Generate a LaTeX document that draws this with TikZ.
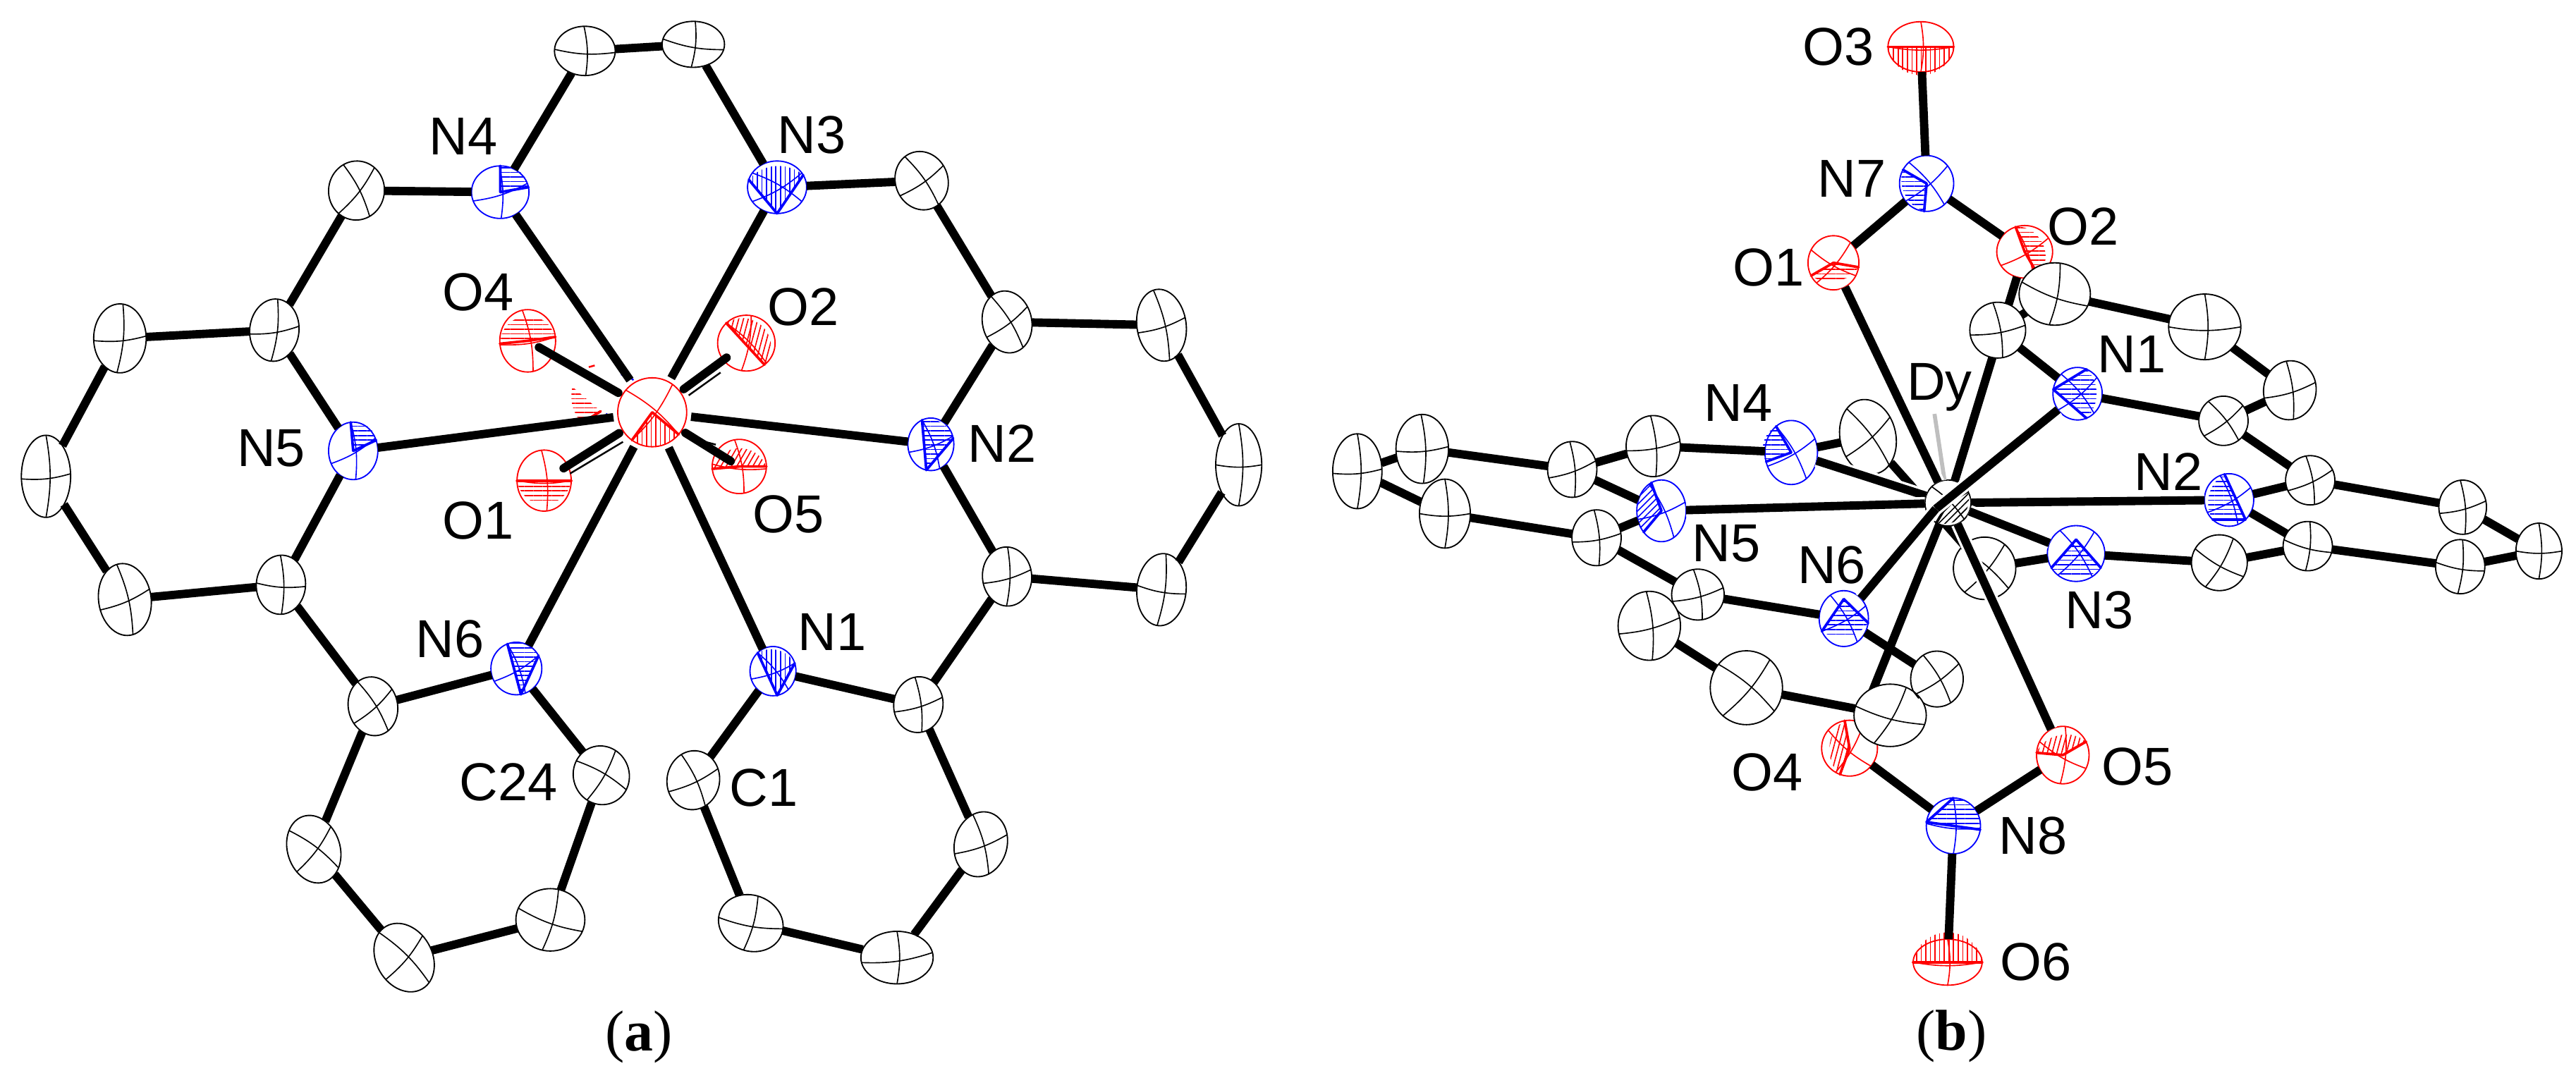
\documentclass[tikz,border=0pt]{standalone}
\usepackage{fontspec}
\setmainfont{Liberation Sans}
\newfontfamily\capfont{Liberation Serif}
\usepackage{tikz}
\usetikzlibrary{calc, shapes.geometric, patterns.meta}

\tikzset{
  atom/.style={ellipse, draw=#1, fill=white, line width=.45pt, inner sep=0pt, outer sep=0pt},
  axis/.style={line width=.4pt},
  wedge/.style={line width=.9pt, line cap=round},
  bond/.style={line width=2.9pt, black},
  hbond/.style={bond, preaction={draw=white, line width=4.6pt}},
  dybond/.style={bond, shorten <=1.6pt},
  obond/.style={bond, line cap=round, shorten <=1.6pt},
  backline/.style={line width=.6pt, black},
  lab/.style={font=\fontsize{18.5}{20}\selectfont, inner sep=0pt},
  caplab/.style={font=\capfont\fontsize{20}{22}\selectfont, inner sep=0pt},
}

\newcommand{\atom}[8]{%
  \node (#2) at (#3) [atom=#1, minimum width={#4*.04cm}, minimum height={#5*.04cm}, rotate=#6] {};
  \pgfmathtruncatemacro{\angA}{#7+180}%
  \pgfmathtruncatemacro{\angB}{#8+180}%
  \draw [axis, #1] (#2.#7) to [bend left=10] (#2.\angA);
  \draw [axis, #1] (#2.#8) to [bend left=10] (#2.\angB);
}
\newcommand{\oct}[7][bend right=45]{%
  \path [pattern={Lines[angle=#7, distance=1.6pt, line width=.4pt]}, pattern color=#2]
    (#4) -- (#3.#5) to [#1] (#3.#6) -- cycle;
  \draw [wedge, #2] (#4) -- (#3.#5) (#4) -- (#3.#6);
}

\begin{document}
\begin{tikzpicture}[x=.02cm, y=-.02cm]
  \useasboundingbox (0,0) rectangle (1568,655.9);

  % (a) view along the axis
  \atom{black}{aca}{356,31}{18.5}{15}{0}{-3}{92}
  \atom{black}{acb}{422,27}{19}{14}{0}{-10}{85}
  \atom{black}{acc}{217,116}{17}{18}{-8}{60}{125}
  \atom{black}{acd}{561,110}{16}{18}{20}{15}{105}
  \atom{black}{ace}{613,196}{15}{19}{12}{25}{110}
  \atom{black}{acf}{707,198}{15}{22}{8}{10}{95}
  \atom{black}{acg}{167,201}{15}{19}{-6}{15}{90}
  \atom{black}{ach}{73,206}{16}{21}{0}{5}{85}
  \atom{black}{aci}{754,283}{14}{25}{0}{0}{90}
  \atom{black}{acj}{28,290}{15}{25}{0}{6}{90}
  \atom{black}{ack}{76,365}{16}{22}{8}{15}{95}
  \atom{black}{acl}{171,356}{15}{18}{-4}{0}{95}
  \atom{black}{acm}{613,351}{15}{18}{4}{12}{85}
  \atom{black}{acn}{707,359}{15}{22}{-5}{-5}{88}
  \atom{black}{aco}{227,430}{15}{18}{12}{30}{110}
  \atom{black}{acp}{559,429}{15}{17}{-8}{25}{105}
  \atom{black}{acu}{366,472}{17}{18}{20}{40}{130}
  \atom{black}{acv}{422,475}{16}{18}{-10}{35}{125}
  \atom{black}{acq}{191,517}{16}{21}{18}{35}{125}
  \atom{black}{acr}{597,514}{16}{20}{-15}{35}{120}
  \atom{black}{acs}{335,560}{21}{19}{0}{-20}{75}
  \atom{black}{act}{457,562}{20}{17}{-20}{10}{95}
  \atom{black}{acw}{246,583}{17}{22}{30}{20}{105}
  \atom{black}{acx}{546,583}{22}{16}{0}{8}{90}
  \atom{blue}{an4}{304.5,117}{17.5}{16}{0}{18}{92}
  \oct{blue}{an4}{an4.center}{10}{90}{0}
  \atom{blue}{an3}{473,114}{18}{16}{0}{30}{150}
  \oct{blue}{an3}{an3.270}{25}{165}{90}
  \atom{blue}{an5}{215,274.5}{15}{17.5}{0}{30}{95}
  \oct{blue}{an5}{an5.center}{25}{95}{0}
  \atom{blue}{an2}{566.6,270.5}{14}{16}{0}{20}{110}
  \oct{blue}{an2}{an2.-100}{15}{110}{0}
  \atom{blue}{an6}{314.3,407}{15.5}{16}{0}{30}{110}
  \oct{blue}{an6}{an6.-80}{30}{110}{0}
  \atom{blue}{an1}{470.5,408.6}{14}{15}{0}{20}{130}
  \oct{blue}{an1}{an1.-80}{20}{130}{90}
  \atom{red}{ao4}{321.2,207.5}{17}{19}{0}{8}{100}
  \oct[bend right=80, looseness=1.5]{red}{ao4}{ao4.center}{8}{186}{0}
  \atom{red}{ao2}{454.3,208.9}{17.5}{17}{0}{135}{80}
  \oct[bend right=80, looseness=1.5]{red}{ao2}{ao2.135}{-50}{135}{75}
  \atom{red}{ao1}{331.2,292.6}{16.5}{18.6}{0}{0}{95}
  \oct[bend right=80, looseness=1.5]{red}{ao1}{ao1.180}{180}{360}{0}
  \atom{red}{ao5}{450,284}{16.5}{16.5}{0}{-5}{100}
  \oct[bend right=70, looseness=1.3]{red}{ao5}{ao5.center}{0}{185}{60}
  \path [pattern={Lines[angle=0, distance=1.6pt, line width=.4pt]}, pattern color=red]
    (348.4,235.4) to [bend right=25] (354.1,257.6) -- (365.6,250.4) -- cycle;
  \draw [wedge, red] (354.1,257.6) -- (365.6,250.4);
  \draw [backline, blue] (378,228) to [bend left=15] (385.6,231.4);
  \draw [backline, blue] (368.9,251.8) -- (373.2,256.1);
  \draw [backline, red] (358.4,223.5) -- (362,222.5);
  \atom{red}{ady}{397,251}{21}{21}{0}{140}{54}
  \oct{red}{ady}{ady.center}{-126}{-40}{90}

  \draw [bond] (aca) -- (acb);
  \draw [bond] (aca) -- (an4);
  \draw [bond] (acb) -- (an3);
  \draw [bond] (an4) -- (acc);
  \draw [bond] (an3) -- (acd);
  \draw [bond] (acc) -- (acg);
  \draw [bond] (acd) -- (ace);
  \draw [bond] (ace) -- (acf);
  \draw [bond] (acg) -- (ach);
  \draw [bond] (ach) -- (acj);
  \draw [bond] (acf) -- (aci);
  \draw [bond] (acj) -- (ack);
  \draw [bond] (aci) -- (acn);
  \draw [bond] (ace) -- (an2);
  \draw [bond] (acg) -- (an5);
  \draw [bond] (an5) -- (acl);
  \draw [bond] (an2) -- (acm);
  \draw [bond] (acl) -- (ack);
  \draw [bond] (acm) -- (acn);
  \draw [bond] (acl) -- (aco);
  \draw [bond] (acm) -- (acp);
  \draw [bond] (aco) -- (an6);
  \draw [bond] (acp) -- (an1);
  \draw [bond] (an6) -- (acu);
  \draw [bond] (an1) -- (acv);
  \draw [bond] (aco) -- (acq);
  \draw [bond] (acp) -- (acr);
  \draw [bond] (acq) -- (acw);
  \draw [bond] (acr) -- (acx);
  \draw [bond] (acw) -- (acs);
  \draw [bond] (acx) -- (act);
  \draw [bond] (acs) -- (acu);
  \draw [bond] (act) -- (acv);
  \draw [dybond] (ady) -- (an5);
  \draw [dybond] (ady) -- (an2);
  \draw [dybond] (ady) -- (an4);
  \draw [dybond] (ady) -- (an3);
  \draw [dybond] (ady) -- (an6);
  \draw [dybond] (ady) -- (an1);
  \draw [obond, shorten >=4.5pt] (ady) -- (ao4.center);
  \draw [obond, shorten >=8.5pt] (ady) -- (ao2.center);
  \draw [obond, shorten >=8pt] (ady) -- (ao1.center);
  \draw [obond, shorten >=3.5pt] (ady) -- (ao5.center);
  \draw [backline] (343,217.8) -- (369.9,236.1);
  \draw [backline] (438.6,226.8) -- (419.2,240.7);
  \draw [backline] (347,288.3) -- (379.2,269);
  \draw [backline] (429.3,269) -- (435.7,270.7);

  \node (lan4) at (282,83) [lab] {N4};
  \node (lan3) at (494,82) [lab] {N3};
  \node (lao4) at (291,178) [lab] {O4};
  \node (lao2) at (489,187) [lab] {O2};
  \node (lan5) at (165,273) [lab] {N5};
  \node (lan2) at (610,270) [lab] {N2};
  \node (lao1) at (291,317) [lab] {O1};
  \node (lao5) at (480,313) [lab] {O5};
  \node (lan6) at (274,389) [lab] {N6};
  \node (lan1) at (506.5,384.6) [lab] {N1};
  \node (lac24) at (309.4,476) [lab] {C24};
  \node (lac1) at (465,479.6) [lab] {C1};
  \node (capa) at (389,631.4) [caplab] {(\textbf{a})};

  % (b) side view, back to front
  \atom{black}{bcab}{1137,266}{17}{23}{12}{30}{115}
  \atom{black}{bcao}{1208,346}{19}{19}{20}{30}{120}
  \draw [bond] (bcab) -- (bcao);
  \coordinate (bdyl) at (1177.5,252);
  \atom{black}{bdy}{1185.7,306.2}{14}{14}{0}{45}{135}
  \draw [line width=1.4pt, black!25] (bdyl) -- (bdy);
  \oct[bend right=60, looseness=1.2]{black}{bdy}{bdy.center}{-120}{30}{45}
  \atom{red}{bo2}{1232.4,153.3}{17}{16}{0}{30}{110}
  \oct[bend right=70, looseness=1.2]{red}{bo2}{bo2.center}{-60}{110}{0}
  \atom{red}{bo4}{1125.8,455.5}{17}{17}{0}{-40}{60}
  \oct[bend right=55]{red}{bo4}{bo4.center}{100}{250}{75}
  \draw [bond] (bdy) -- (bo2);
  \draw [bond] (bdy) -- (bo4);
  \atom{black}{bcx}{1216,201}{17}{17}{0}{10}{100}
  \atom{black}{bcw}{1250.7,179}{21.7}{19}{0}{-20}{80}
  \atom{black}{bcy}{1342,199}{22}{20}{0}{0}{90}
  \atom{black}{bcz}{1393.8,237.6}{16}{18}{-8}{25}{105}
  \atom{black}{bcaa}{1353.4,256.2}{15}{15}{8}{30}{120}
  \atom{black}{bcac}{1006.3,271.6}{16.5}{18.6}{0}{10}{95}
  \atom{black}{bcad}{957,285.8}{15}{17}{0}{20}{95}
  \atom{black}{bcae}{865.7,273.3}{16}{21}{0}{5}{92}
  \atom{black}{bcaf}{826.2,286.9}{15}{22.8}{0}{5}{90}
  \atom{black}{bcag}{879.5,312.7}{15.5}{21}{0}{0}{90}
  \atom{black}{bcah}{971.8,327.4}{15}{17}{0}{10}{95}
  \atom{black}{bcai}{1406.2,292.4}{15}{15}{0}{25}{100}
  \atom{black}{bcal}{1404.7,332.5}{15}{15}{0}{-15}{85}
  \atom{black}{bcaj}{1499,308.8}{14.5}{16.5}{0}{15}{95}
  \atom{black}{bcan}{1497.5,345}{15}{16.5}{0}{-10}{85}
  \atom{black}{bcak}{1545.4,335.5}{14}{17}{0}{0}{90}
  \atom{black}{bcam}{1350.9,342.6}{17}{17}{0}{-30}{60}
  \atom{black}{bcap}{1033.5,362}{16}{15.5}{0}{15}{100}
  \atom{black}{bcaq}{1003.9,381}{19}{21}{0}{15}{95}
  \atom{black}{bcar}{1063,418.7}{22}{22.5}{0}{50}{140}
  \atom{black}{bcas}{1179,413.4}{16}{17}{0}{35}{120}
  \atom{black}{bcat}{1150.5,435.5}{22}{19}{0}{60}{-15}
  \atom{blue}{bn4}{1090.3,275.5}{16}{19.5}{0}{30}{120}
  \oct{blue}{bn4}{bn4.center}{120}{200}{0}
  \atom{blue}{bn5}{1011.3,311}{15}{18.8}{0}{20}{115}
  \oct{blue}{bn5}{bn5.center}{110}{230}{45}
  \atom{blue}{bn2}{1356.8,304.4}{15}{16}{0}{30}{110}
  \oct{blue}{bn2}{bn2.-50}{100}{230}{0}
  \atom{blue}{bn1}{1264.6,239.7}{15}{16}{0}{40}{130}
  \oct{blue}{bn1}{bn1.170}{-70}{70}{0}
  \atom{blue}{bn3}{1263.7,337}{17.5}{17}{0}{50}{125}
  \oct{blue}{bn3}{$(bn3)!.5!(bn3.90)$}{-150}{-30}{0}
  \atom{blue}{bn6}{1122.3,376.6}{15}{17}{0}{30}{120}
  \oct{blue}{bn6}{$(bn6)!.7!(bn6.90)$}{-150}{-10}{0}
  \atom{blue}{bn7}{1172.7,111.7}{16.5}{17}{0}{40}{130}
  \oct{blue}{bn7}{bn7.center}{150}{265}{0}
  \atom{blue}{bn8}{1189,502.8}{16.5}{17}{0}{-5}{90}
  \oct{blue}{bn8}{bn8.172}{-8}{90}{0}
  \atom{red}{bo3}{1169.2,28.5}{20}{15.3}{0}{0}{90}
  \oct[bend right=80, looseness=1.5]{red}{bo3}{bo3.180}{180}{360}{90}
  \atom{red}{bo1}{1116,160}{15.5}{16.5}{0}{-30}{50}
  \oct{red}{bo1}{bo1.center}{-150}{-10}{0}
  \atom{red}{bo5}{1255.6,459.7}{16}{17.5}{0}{-30}{85}
  \oct[bend right=55]{red}{bo5}{bo5.center}{30}{175}{75}
  \atom{red}{bo6}{1185.5,585.8}{21}{14}{0}{0}{90}
  \oct[bend right=80, looseness=1.5]{red}{bo6}{bo6.180}{0}{180}{90}

  \draw [bond] (bcx) -- (bcw);
  \draw [bond] (bcx) -- (bn1);
  \draw [bond] (bcw) -- (bcy);
  \draw [bond] (bcy) -- (bcz);
  \draw [bond] (bcz) -- (bcaa);
  \draw [bond] (bcaa) -- (bn1);
  \draw [bond] (bcaa) -- (bcai);
  \draw [bond] (bcai) -- (bn2);
  \draw [bond] (bcai) -- (bcaj);
  \draw [bond] (bcaj) -- (bcak);
  \draw [bond] (bcak) -- (bcan);
  \draw [bond] (bcan) -- (bcal);
  \draw [bond] (bcal) -- (bn2);
  \draw [bond] (bcal) -- (bcam);
  \draw [bond] (bcam) -- (bn3);
  \draw [bond] (bcao) -- (bn3);
  \draw [bond] (bcab) -- (bn4);
  \draw [bond] (bn4) -- (bcac);
  \draw [bond] (bcac) -- (bcad);
  \draw [bond] (bcad) -- (bn5);
  \draw [bond] (bcad) -- (bcae);
  \draw [bond] (bcae) -- (bcaf);
  \draw [bond] (bcaf) -- (bcag);
  \draw [bond] (bcag) -- (bcah);
  \draw [bond] (bcah) -- (bn5);
  \draw [bond] (bcah) -- (bcap);
  \draw [bond] (bcap) -- (bn6);
  \draw [bond] (bcap) -- (bcaq);
  \draw [bond] (bcaq) -- (bcar);
  \draw [bond] (bcar) -- (bcat);
  \draw [bond] (bcat) -- (bcas);
  \draw [bond] (bcas) -- (bn6);
  \draw [bond] (bo3) -- (bn7);
  \draw [bond] (bn7) -- (bo1);
  \draw [bond] (bn7) -- (bo2);
  \draw [bond] (bo6) -- (bn8);
  \draw [bond] (bn8) -- (bo4);
  \draw [bond] (bn8) -- (bo5);
  \draw [hbond] (bdy) -- (bo1);
  \draw [hbond] (bdy) -- (bn4);
  \draw [hbond] (bdy) -- (bn5);
  \draw [hbond] (bdy) -- (bn2);
  \draw [hbond] (bdy) -- (bn3);
  \draw [hbond] (bdy) -- (bo5);
  \coordinate (bdyx) at (1178.3,309.8);
  \draw [hbond] (bn1) -- (bdyx);
  \draw [hbond] (bn6) -- (bdyx);

  \node (lbo3) at (1119,28.5) [lab] {O3};
  \node (lbn7) at (1127.3,108.8) [lab] {N7};
  \node (lbo1) at (1076.4,163) [lab] {O1};
  \node (lbo2) at (1268,138) [lab] {O2};
  \node (lbn1) at (1297.6,215.7) [lab] {N1};
  \node (lbdy) at (1180.6,236) [lab] {Dy};
  \node (lbn4) at (1058.2,245.3) [lab] {N4};
  \node (lbn2) at (1319.8,287.3) [lab] {N2};
  \node (lbn5) at (1050.8,330.7) [lab] {N5};
  \node (lbn6) at (1115,344) [lab] {N6};
  \node (lbn3) at (1277.8,371.4) [lab] {N3};
  \node (lbo4) at (1075.5,470.2) [lab] {O4};
  \node (lbo5) at (1301,466.6) [lab] {O5};
  \node (lbn8) at (1237.4,509) [lab] {N8};
  \node (lbo6) at (1239.3,585.8) [lab] {O6};
  \node (capb) at (1188,631) [caplab] {(\textbf{b})};
\end{tikzpicture}
\end{document}
